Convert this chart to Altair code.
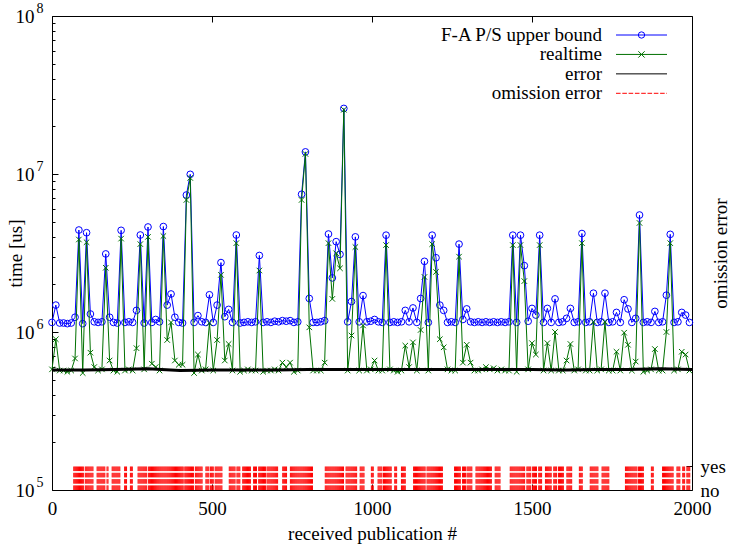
import altair as alt
import pandas as pd

# ---------------- data ----------------
publication = list(range(0, 1993, 12))          # received publication #

# F-A P/S upper bound, in 10^6 us
upper_bound = [
    1.15, 1.48, 1.14, 1.14, 1.13, 1.14, 1.24, 4.42, 1.13, 4.25,
    1.30, 1.16, 1.15, 1.16, 3.12, 1.24, 1.15, 1.14, 4.40, 1.15,
    1.16, 1.15, 1.37, 4.11, 1.14, 4.62, 1.15, 1.20, 1.16, 4.65,
    1.48, 1.74, 1.24, 1.15, 1.14, 7.36, 9.95, 1.15, 1.27, 1.16,
    1.15, 1.72, 1.15, 1.48, 2.75, 1.25, 1.39, 1.15, 4.11, 1.14,
    1.15, 1.16, 1.15, 1.16, 3.05, 1.15, 1.16, 1.15, 1.17, 1.16,
    1.18, 1.17, 1.18, 1.15, 1.16, 7.44, 13.8, 1.63, 1.15, 1.15,
    1.16, 1.18, 4.17, 2.20, 3.73, 3.10, 26.0, 1.16, 1.56, 4.00,
    1.16, 1.70, 1.16, 1.17, 1.20, 1.16, 1.15, 4.10, 1.15, 1.16,
    1.15, 1.16, 1.37, 1.16, 1.42, 1.15, 1.63, 2.80, 1.15, 4.10,
    2.95, 1.48, 1.37, 1.15, 1.16, 1.15, 3.60, 1.20, 1.40, 1.16,
    1.15, 1.16, 1.15, 1.16, 1.15, 1.16, 1.15, 1.16, 1.15, 1.16,
    4.10, 1.15, 4.10, 2.63, 1.17, 1.41, 1.28, 4.10, 1.15, 1.41,
    1.15, 1.62, 1.15, 1.16, 1.22, 1.41, 1.15, 1.16, 4.20, 1.15,
    1.16, 1.76, 1.15, 1.16, 1.76, 1.15, 1.16, 1.33, 1.15, 1.60,
    1.40, 1.15, 1.22, 5.50, 1.15, 1.16, 1.15, 1.35, 1.15, 1.16,
    1.71, 4.15, 1.15, 1.16, 1.33, 1.28, 1.15,
]

# realtime, in 10^6 us
realtime = [
    0.58, 0.90, 0.57, 0.57, 0.56, 0.57, 0.68, 3.85, 0.55, 3.70,
    0.74, 0.60, 0.57, 0.58, 2.55, 0.66, 0.57, 0.56, 3.90, 0.57,
    0.58, 0.57, 0.79, 3.60, 0.58, 4.00, 0.63, 0.60, 0.57, 4.05,
    0.89, 1.15, 0.66, 0.62, 0.62, 6.85, 9.44, 0.55, 0.72, 0.57,
    0.58, 1.14, 0.57, 0.89, 2.30, 0.66, 0.84, 0.57, 3.65, 0.56,
    0.57, 0.58, 0.57, 0.57, 2.45, 0.56, 0.57, 0.57, 0.58, 0.57,
    0.64, 0.60, 0.64, 0.56, 0.57, 6.85, 13.4, 1.07, 0.57, 0.57,
    0.57, 0.64, 3.65, 1.62, 3.15, 2.53, 25.5, 0.57, 0.95, 3.45,
    0.57, 1.10, 0.57, 0.58, 0.66, 0.57, 0.57, 3.55, 0.58, 0.57,
    0.56, 0.57, 0.82, 0.60, 0.86, 0.57, 1.03, 2.23, 0.57, 3.60,
    2.40, 0.90, 0.80, 0.58, 0.57, 0.57, 3.00, 0.64, 0.83, 0.64,
    0.57, 0.57, 0.58, 0.60, 0.58, 0.59, 0.57, 0.58, 0.57, 0.57,
    3.55, 0.56, 3.55, 2.10, 0.58, 0.85, 0.72, 3.55, 0.57, 0.85,
    0.57, 1.00, 0.57, 0.57, 0.66, 0.84, 0.57, 0.58, 3.65, 0.57,
    0.57, 1.16, 0.57, 0.58, 1.16, 0.57, 0.57, 0.75, 0.57, 0.99,
    0.83, 0.57, 0.65, 4.90, 0.56, 0.57, 0.58, 0.78, 0.57, 0.57,
    1.00, 3.65, 0.57, 0.58, 0.75, 0.72, 0.57,
]

# error, in 10^6 us
error_x = list(range(0, 2001, 100))
error_val = [0.575, 0.575, 0.58, 0.585, 0.57, 0.575, 0.575, 0.575, 0.58, 0.58,
             0.58, 0.58, 0.58, 0.58, 0.58, 0.58, 0.575, 0.58, 0.58, 0.585, 0.58]

# omission error = yes over these publication ranges
omission_start = [68, 104, 141, 172, 188, 227, 245, 269, 302, 383, 415, 448, 481, 495,
                  510, 554, 578, 596, 630, 646, 672, 721, 745, 854, 919, 963, 998, 1019,
                  1036, 1071, 1092, 1130, 1172, 1258, 1283, 1297, 1325, 1385, 1432, 1484,
                  1502, 1521, 1542, 1568, 1583, 1609, 1648, 1682, 1719, 1792, 1833, 1873,
                  1908, 1953, 1971, 1984]
omission_end = [99, 130, 167, 177, 214, 233, 252, 297, 380, 411, 443, 469, 490, 505,
                533, 573, 589, 620, 641, 667, 706, 734, 815, 911, 953, 977, 1005, 1031,
                1062, 1078, 1104, 1167, 1221, 1276, 1292, 1312, 1375, 1401, 1479, 1498,
                1516, 1531, 1562, 1578, 1599, 1625, 1658, 1708, 1740, 1828, 1849, 1880,
                1943, 1964, 1979, 1995]

x_ticks = [0, 500, 1000, 1500, 2000]
y_major = [1e5, 1e6, 1e7, 1e8]
y_minor = [m * 10.0 ** e for e in range(5, 8) for m in range(2, 10)]
legend_labels = ["F-A P/S upper bound", "realtime", "error", "omission error"]

# ---------------- style ----------------
W, H = 640, 474
FONT = "Liberation Serif"
FS = 19
BLUE = "#0000ff"
GREEN = "#007000"
RED = "#ff0000"
CROSS = "M-1,-1L1,1M-1,1L1,-1"
DASH = [4.6, 1.7]

main = pd.DataFrame({
    "x": publication,
    "ub": [v * 1e6 for v in upper_bound],
    "rt": [v * 1e6 for v in realtime],
})
err = pd.DataFrame({"x": error_x, "err": [v * 1e6 for v in error_val]})
om = pd.DataFrame({"start": omission_start, "end": omission_end})
leg = pd.DataFrame({"label": legend_labels})

xs = alt.Scale(domain=[0, 2000], nice=False, zero=False)
ys = alt.Scale(type="log", domain=[1e5, 1e8], nice=False)
oms = alt.Scale(domain=[0, 20], nice=False, zero=False)

x_label_axis = alt.Axis(values=x_ticks, format="d", ticks=False, domain=False, grid=False,
                        labelPadding=9, labelFlush=False, labelOverlap=False,
                        title="received publication #", titleX=W / 2, titleY=43,
                        titleBaseline="middle", titleAlign="center")
y_label_axis = alt.Axis(orient="left", values=y_major, labelExpr="'10'", ticks=False,
                        domain=False, grid=False, labelPadding=18, labelFlush=False,
                        labelOverlap=False,
                        title="time [us]", titleX=-37, titleY=H / 2, titleAngle=270,
                        titleBaseline="middle", titleAlign="center")

# ---------------- data layers ----------------
blue_line = alt.Chart(main).mark_line(color=BLUE, strokeWidth=1).encode(
    x=alt.X("x:Q", scale=xs, axis=x_label_axis),
    y=alt.Y("ub:Q", scale=ys, axis=y_label_axis),
)
blue_pts = alt.Chart(main).mark_point(shape="circle", filled=False, color=BLUE, size=45,
                                      strokeWidth=1, opacity=1).encode(
    x=alt.X("x:Q", scale=xs, axis=None),
    y=alt.Y("ub:Q", scale=ys, axis=None),
)
green_line = alt.Chart(main).mark_line(color=GREEN, strokeWidth=1).encode(
    x=alt.X("x:Q", scale=xs, axis=None),
    y=alt.Y("rt:Q", scale=ys, axis=None),
)
green_pts = alt.Chart(main).mark_point(shape=CROSS, filled=False, color=GREEN, size=30,
                                       strokeWidth=1, opacity=1).encode(
    x=alt.X("x:Q", scale=xs, axis=None),
    y=alt.Y("rt:Q", scale=ys, axis=None),
)
err_line = alt.Chart(err).mark_line(color="black", strokeWidth=3).encode(
    x=alt.X("x:Q", scale=xs, axis=None),
    y=alt.Y("err:Q", scale=ys, axis=None),
)
omission = alt.Chart(om).transform_calculate(
    pos="sequence(datum.start, datum.end + 1, 3)"
).transform_flatten(["pos"]).transform_calculate(
    lo="0", hi="1"
).mark_rule(color=RED, strokeWidth=1, strokeDash=DASH).encode(
    x=alt.X("pos:Q", scale=xs, axis=None),
    y=alt.Y("lo:Q", scale=oms,
            axis=alt.Axis(orient="right", values=[0, 1],
                          labelExpr="datum.value == 1 ? 'yes' : 'no'",
                          ticks=False, domain=False, grid=False, labelPadding=8,
                          labelFlush=False, labelOverlap=False,
                          title="omission error", titleX=28, titleY=H / 2,
                          titleAngle=270, titleBaseline="middle", titleAlign="center")),
    y2="hi:Q",
)


# ---------------- tick / label helper layers (invisible marks) ----------------
def x_axis_layer(values, axis):
    return alt.Chart(pd.DataFrame({"v": values})).mark_point(opacity=0).encode(
        x=alt.X("v:Q", scale=xs, axis=axis))


def y_axis_layer(values, scale, axis):
    return alt.Chart(pd.DataFrame({"v": values})).mark_point(opacity=0).encode(
        y=alt.Y("v:Q", scale=scale, axis=axis))


tick_common = dict(labels=False, domain=False, grid=False, title="", tickColor="black")
x_in_bottom = x_axis_layer(x_ticks, alt.Axis(orient="top", offset=-H, values=x_ticks,
                                             tickSize=6, **tick_common))
x_in_top = x_axis_layer(x_ticks, alt.Axis(orient="bottom", offset=-H, values=x_ticks,
                                          tickSize=6, **tick_common))
y_in_major = y_axis_layer(y_major, ys, alt.Axis(orient="right", offset=-W, values=y_major,
                                                tickSize=6, **tick_common))
y_in_minor = y_axis_layer(y_minor, ys, alt.Axis(orient="right", offset=-W, values=y_minor,
                                                tickSize=3, **tick_common))
y_exponent = y_axis_layer(y_major, ys, alt.Axis(
    orient="left", values=y_major, labelExpr="format(log(datum.value) / LN10, '.0f')",
    ticks=False, domain=False, grid=False, labelPadding=9, labelFontSize=14,
    labelOffset=-8, labelFlush=False, labelOverlap=False, title=""))
y2_in_tick = y_axis_layer([1], oms, alt.Axis(orient="left", offset=-W, values=[1],
                                             tickSize=6, **tick_common))

# ---------------- legend (gnuplot style: text, then sample) ----------------
leg_y = alt.Y("label:N", scale=alt.Scale(type="point", domain=legend_labels,
                                         range=[19, 77.3], padding=0), axis=None)
leg_text = alt.Chart(leg).mark_text(align="right", baseline="middle", font=FONT,
                                    fontSize=FS, color="black").encode(
    x=alt.value(550), y=leg_y, text="label:N")
leg_lines = alt.Chart(leg).mark_rule().encode(
    x=alt.value(564), x2=alt.value(615), y=leg_y,
    color=alt.Color("label:N", scale=alt.Scale(domain=legend_labels,
                                               range=[BLUE, GREEN, "black", RED]),
                    legend=None),
    strokeWidth=alt.StrokeWidth("label:N", scale=alt.Scale(domain=legend_labels,
                                                           range=[1, 1, 3, 1]),
                                legend=None),
    strokeDash=alt.StrokeDash("label:N", scale=alt.Scale(
        domain=legend_labels, range=[[1, 0], [1, 0], [1, 0], DASH]), legend=None),
)
leg_marks = alt.Chart(leg).transform_filter(
    alt.FieldOneOfPredicate(field="label", oneOf=legend_labels[:2])
).mark_point(filled=False, strokeWidth=1, opacity=1, size=40).encode(
    x=alt.value(589.5), y=leg_y,
    shape=alt.Shape("label:N", scale=alt.Scale(domain=legend_labels[:2],
                                               range=["circle", CROSS]), legend=None),
    color=alt.Color("label:N", scale=alt.Scale(domain=legend_labels,
                                               range=[BLUE, GREEN, "black", RED]),
                    legend=None),
)

chart = alt.layer(
    blue_line, blue_pts, green_line, green_pts, err_line, omission,
    x_in_bottom, x_in_top, y_in_major, y_in_minor, y_exponent, y2_in_tick,
    leg_text, leg_lines, leg_marks,
).resolve_scale(
    x="independent", y="independent"
).properties(
    width=W, height=H, autosize="none",
    padding={"left": 52, "top": 16, "right": 40, "bottom": 54},
    background="white",
).configure_view(
    stroke="black", strokeWidth=1
).configure_axis(
    labelFont=FONT, titleFont=FONT, labelFontSize=FS, titleFontSize=FS,
    labelColor="black", titleColor="black", titleFontWeight="normal",
    tickColor="black", tickWidth=1, grid=False, domain=False,
)

chart.save("out.html", embed_options={"renderer": "svg", "actions": False})
